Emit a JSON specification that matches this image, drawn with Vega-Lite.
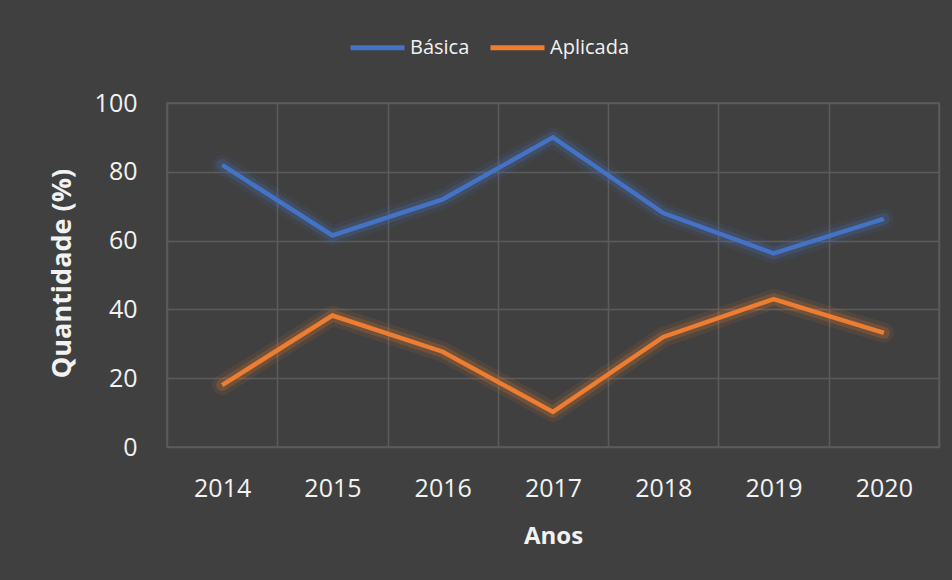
{
  "$schema": "https://vega.github.io/schema/vega-lite/v6.json",
  "width": 772,
  "height": 344,
  "autosize": {"type": "none"},
  "padding": {"left": 167, "top": 103, "right": 13, "bottom": 133},
  "background": "#404040",
  "config": {
    "view": {"stroke": "#5b5b5b", "strokeWidth": 1.5},
    "font": "Open Sans"
  },
  "data": {
    "values": [
      {"ano": "2014", "serie": "Básica", "valor": 82},
      {"ano": "2015", "serie": "Básica", "valor": 61.5},
      {"ano": "2016", "serie": "Básica", "valor": 72},
      {"ano": "2017", "serie": "Básica", "valor": 90},
      {"ano": "2018", "serie": "Básica", "valor": 68},
      {"ano": "2019", "serie": "Básica", "valor": 56.3},
      {"ano": "2020", "serie": "Básica", "valor": 66.3},
      {"ano": "2014", "serie": "Aplicada", "valor": 18},
      {"ano": "2015", "serie": "Aplicada", "valor": 38.2},
      {"ano": "2016", "serie": "Aplicada", "valor": 27.7},
      {"ano": "2017", "serie": "Aplicada", "valor": 10.2},
      {"ano": "2018", "serie": "Aplicada", "valor": 32},
      {"ano": "2019", "serie": "Aplicada", "valor": 43},
      {"ano": "2020", "serie": "Aplicada", "valor": 33.2}
    ]
  },
  "encoding": {
    "x": {
      "field": "ano",
      "type": "ordinal",
      "scale": {"type": "band", "paddingInner": 0, "paddingOuter": 0},
      "axis": {
        "title": "Anos",
        "titleFont": "Open Sans",
        "titleFontSize": 24,
        "titleFontWeight": "bold",
        "titleColor": "#f2f2f2",
        "titleBaseline": "middle",
        "titleY": 89,
        "labelAngle": 0,
        "labelFont": "Open Sans",
        "labelFontSize": 25,
        "labelColor": "#f2f2f2",
        "labelPadding": 29,
        "domain": false,
        "ticks": false,
        "grid": true,
        "tickBand": "extent",
        "gridColor": "#5b5b5b",
        "gridWidth": 1.5
      }
    },
    "y": {
      "field": "valor",
      "type": "quantitative",
      "scale": {"domain": [0, 100]},
      "axis": {
        "title": "Quantidade (%)",
        "titleFont": "Open Sans",
        "titleFontSize": 27,
        "titleFontWeight": "bold",
        "titleColor": "#f2f2f2",
        "titleBaseline": "middle",
        "titleX": -105,
        "titleY": 170,
        "values": [0, 20, 40, 60, 80, 100],
        "labelFont": "Open Sans",
        "labelFontSize": 25,
        "labelColor": "#f2f2f2",
        "labelPadding": 30,
        "domain": false,
        "ticks": false,
        "grid": true,
        "gridColor": "#5b5b5b",
        "gridWidth": 1.5
      }
    },
    "color": {
      "field": "serie",
      "type": "nominal",
      "sort": ["Básica", "Aplicada"],
      "scale": {"domain": ["Básica", "Aplicada"], "range": ["#4472C4", "#ED7D31"]},
      "legend": {
        "title": null,
        "orient": "none",
        "direction": "horizontal",
        "legendX": 181,
        "legendY": -85,
        "symbolType": "stroke",
        "symbolSize": 2916,
        "symbolStrokeWidth": 5,
        "symbolOpacity": 1,
        "labelFont": "Open Sans",
        "labelFontSize": 20,
        "labelColor": "#f2f2f2",
        "labelOffset": 3,
        "columnPadding": 10
      }
    }
  },
  "layer": [
    {"mark": {"type": "line", "strokeWidth": 20, "opacity": 0.1, "strokeJoin": "round", "strokeCap": "round"}},
    {"mark": {"type": "line", "strokeWidth": 12, "opacity": 0.2, "strokeJoin": "round", "strokeCap": "round"}},
    {"mark": {"type": "line", "strokeWidth": 4.5, "strokeJoin": "miter", "strokeCap": "butt"}}
  ]
}
